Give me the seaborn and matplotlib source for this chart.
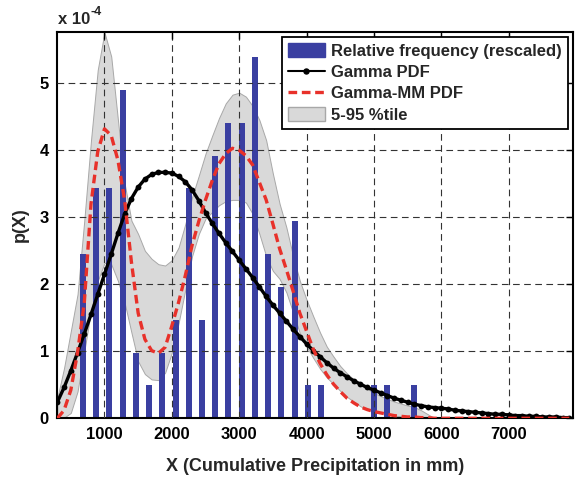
import numpy as np
import pandas as pd
import matplotlib
matplotlib.use("Agg")
import matplotlib.pyplot as plt
from matplotlib.patches import Patch
from matplotlib.lines import Line2D
import seaborn as sns

# ---------------- data (y values in units of 1e-4) ----------------
bin_centers = [680, 876, 1073, 1269, 1466, 1662, 1858, 2055, 2251, 2448,
               2644, 2840, 3037, 3233, 3430, 3626, 3822, 4019, 4215, 4412,
               4608, 4804, 5001, 5197, 5394, 5590]
rel_freq = [2.45, 3.43, 3.43, 4.90, 0.98, 0.49, 0.98, 1.47, 3.43, 1.47,
            3.92, 4.41, 4.41, 5.39, 2.45, 1.96, 2.94, 0.49, 0.49, 0.0,
            0.0, 0.0, 0.49, 0.49, 0.0, 0.49]

pdf_x = list(range(300, 8000, 100))
gamma_pdf = [0.24, 0.46, 0.71, 0.98, 1.26, 1.55, 1.85, 2.15, 2.45, 2.76,
             3.05, 3.28, 3.45, 3.57, 3.64, 3.67, 3.67, 3.66, 3.61, 3.53,
             3.41, 3.25, 3.07, 2.91, 2.76, 2.62, 2.49, 2.36, 2.23, 2.10,
             1.96, 1.82, 1.69, 1.57, 1.45, 1.33, 1.22, 1.11, 1.01, 0.92,
             0.83, 0.75, 0.68, 0.62, 0.56, 0.51, 0.46, 0.42, 0.38, 0.34,
             0.30, 0.27, 0.24, 0.21, 0.19, 0.17, 0.16, 0.15, 0.14, 0.12,
             0.11, 0.10, 0.09, 0.08, 0.07, 0.06, 0.06, 0.05, 0.04, 0.04,
             0.03, 0.03, 0.02, 0.02, 0.02, 0.01, 0.01]
gamma_mm_pdf = [0.00, 0.12, 0.42, 0.98, 1.72, 3.20, 3.98, 4.32, 4.22, 3.85,
                3.25, 2.33, 1.57, 1.18, 1.01, 0.97, 1.06, 1.38, 1.73, 2.13,
                2.58, 2.94, 3.26, 3.55, 3.80, 3.95, 4.03, 4.00, 3.92, 3.78,
                3.52, 3.26, 2.90, 2.53, 2.22, 1.90, 1.57, 1.30, 1.03, 0.82,
                0.65, 0.51, 0.40, 0.30, 0.23, 0.17, 0.13, 0.10, 0.08, 0.06,
                0.04, 0.03, 0.02, 0.02, 0.01, 0.01, 0.00, 0.00, 0.00, 0.00,
                0.00, 0.00, 0.00, 0.00, 0.00, 0.00, 0.00, 0.00, 0.00, 0.00,
                0.00, 0.00, 0.00, 0.00, 0.00, 0.00, 0.00]

band_x = list(range(300, 6000, 100))
band_upper = [0.30, 0.75, 1.30, 1.85, 2.95, 4.15, 5.20, 5.76, 5.40, 4.45,
              3.50, 2.95, 2.75, 2.50, 2.38, 2.30, 2.28, 2.36, 2.55, 2.90,
              3.30, 3.62, 3.95, 4.22, 4.48, 4.70, 4.83, 4.86, 4.80, 4.66,
              4.45, 4.15, 3.65, 3.20, 2.85, 2.42, 2.05, 1.77, 1.52, 1.28,
              1.07, 0.92, 0.78, 0.67, 0.58, 0.50, 0.44, 0.38, 0.33, 0.29,
              0.25, 0.22, 0.19, 0.17, 0.12, 0.06, 0.00]
band_lower = [0.00, 0.01, 0.08, 0.40, 1.00, 1.60, 2.05, 2.32, 2.30, 2.05,
              1.72, 1.28, 0.85, 0.66, 0.58, 0.57, 0.68, 0.98, 1.42, 1.92,
              2.42, 2.75, 2.98, 3.08, 3.18, 3.24, 3.26, 3.26, 3.22, 3.05,
              2.75, 2.42, 2.20, 2.08, 1.88, 1.58, 1.27, 1.07, 0.90, 0.74,
              0.61, 0.51, 0.41, 0.32, 0.25, 0.18, 0.13, 0.10, 0.08, 0.06,
              0.04, 0.03, 0.02, 0.01, 0.00, 0.00, 0.00]

x_ticks = [1000, 2000, 3000, 4000, 5000, 6000, 7000]
y_ticks = [0, 1, 2, 3, 4, 5]
legend_labels = ["Relative frequency (rescaled)", "Gamma PDF",
                 "Gamma-MM PDF", "5-95 %tile"]

BLUE = "#3A3FA1"
RED = "#E8312A"
GRAY = "#D9D9D9"
GRAY_EDGE = "#A8A8A8"

# ---------------- style ----------------
sns.set_style("white")
plt.rcParams["font.family"] = ["Liberation Sans", "DejaVu Sans"]
plt.rcParams["font.weight"] = "bold"
plt.rcParams["axes.labelweight"] = "bold"

fig = plt.figure(figsize=(5.75, 4.78), dpi=100)
ax = fig.add_axes([0.0997, 0.1249, 0.8974, 0.8088])

# gray band
ax.fill_between(band_x, band_lower, band_upper, facecolor=GRAY,
                edgecolor=GRAY_EDGE, linewidth=0.7, zorder=0.5)

# bars
bars_df = pd.DataFrame({"x": bin_centers, "y": rel_freq})
sns.barplot(data=bars_df, x="x", y="y", native_scale=True, width=0.45,
            color=BLUE, saturation=1, errorbar=None, linewidth=0,
            ax=ax, zorder=1)

# curves
pdf_df = pd.DataFrame({"x": pdf_x, "g": gamma_pdf, "mm": gamma_mm_pdf})
sns.lineplot(data=pdf_df, x="x", y="g", color="black", linewidth=2.4,
             marker="o", markersize=4.2, markeredgewidth=0,
             markerfacecolor="black", errorbar=None, ax=ax, zorder=4)
sns.lineplot(data=pdf_df, x="x", y="mm", color=RED, linewidth=2.4,
             linestyle=(0, (2.6, 1.4)), errorbar=None, ax=ax, zorder=5)

# axes
ax.set_xlim(300, 7960)
ax.set_ylim(0, 5.77)
ax.set_xticks(x_ticks)
ax.set_yticks(y_ticks)
ax.set_xticklabels([str(t) for t in x_ticks], fontsize=12, fontweight="bold")
ax.set_yticklabels([str(t) for t in y_ticks], fontsize=12, fontweight="bold")
ax.tick_params(direction="in", length=5, width=1, top=True, right=True,
               pad=6, colors="black")
ax.grid(True, linestyle=(0, (6, 4)), color="#333333", linewidth=0.8)
ax.set_axisbelow(False)
for s in ax.spines.values():
    s.set_linewidth(1.5)
    s.set_color("black")

ax.set_xlabel("X (Cumulative Precipitation in mm)", fontsize=13,
              fontweight="bold", labelpad=12)
ax.set_ylabel("p(X)", fontsize=13, fontweight="bold", labelpad=8)

# exponent text
t = ax.text(0.002, 1.012, "x 10", transform=ax.transAxes, ha="left",
            va="bottom", fontsize=12, fontweight="bold")
ax.annotate("-4", xy=(1.0, 1.0), xycoords=t, ha="left", va="center",
            fontsize=9, fontweight="bold")

# legend
handles = [
    Patch(facecolor=BLUE, edgecolor=BLUE),
    Line2D([], [], color="black", linewidth=1.5, marker="o", markersize=3.6),
    Line2D([], [], color=RED, linewidth=2.4, linestyle=(0, (2.6, 1.4))),
    Patch(facecolor=GRAY, edgecolor=GRAY_EDGE),
]
leg = ax.legend(handles, legend_labels, loc="upper right",
                prop={"weight": "bold", "size": 12}, frameon=True,
                fancybox=False, framealpha=1, edgecolor="black",
                borderaxespad=0.33, handlelength=2.2, handleheight=0.95,
                labelspacing=0.32, handletextpad=0.4, borderpad=0.35,
                numpoints=1)
leg.get_frame().set_linewidth(1.3)
leg.set_zorder(10)

fig.savefig("out.png", dpi=100)
